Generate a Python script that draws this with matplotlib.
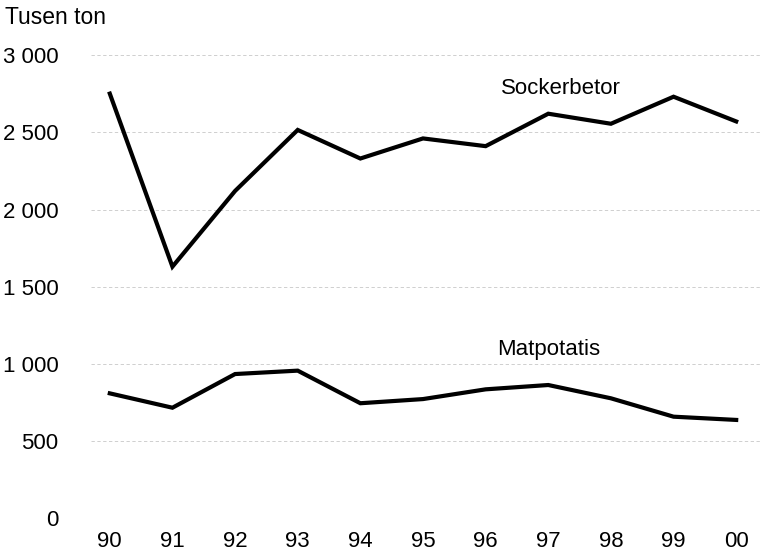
import matplotlib.pyplot as plt

plt.rcParams['font.family'] = ['Liberation Sans', 'DejaVu Sans']

# Data (thousand tonnes)
years = ['90', '91', '92', '93', '94', '95', '96', '97', '98', '99', '00']
sockerbetor = [2750, 1630, 2120, 2515, 2330, 2460, 2410, 2620, 2555, 2730, 2570]
matpotatis = [810, 717, 935, 957, 746, 773, 836, 864, 778, 659, 638]
yticks = [0, 500, 1000, 1500, 2000, 2500, 3000]
ytick_labels = ['0', '500', '1 000', '1 500', '2 000', '2 500', '3 000']

fig = plt.figure(figsize=(7.61, 5.52), dpi=100)
ax = fig.add_axes([91 / 761, 33.5 / 552, 669 / 761, 463.5 / 552])

x = list(range(len(years)))
ax.plot(x, sockerbetor, color='black', linewidth=3, solid_joinstyle='miter')
ax.plot(x, matpotatis, color='black', linewidth=3, solid_joinstyle='miter')

ax.set_xlim(-0.3, 10.38)
ax.set_ylim(0, 3000)
ax.set_yticks(yticks)
ax.set_yticklabels(ytick_labels)
ax.set_xticks(x)
ax.set_xticklabels(years)
ax.tick_params(length=0, labelsize=16)
ax.tick_params(axis='y', pad=23.5)
ax.tick_params(axis='x', pad=9)

ax.grid(axis='y', color='#c8c8c8', linestyle=(0, (4, 3)), linewidth=0.6)
ax.set_axisbelow(True)
for s in ax.spines.values():
    s.set_visible(False)

ax.text(7.2, 2785, 'Sockerbetor', ha='center', va='center', fontsize=16)
ax.text(7.0, 1095, 'Matpotatis', ha='center', va='center', fontsize=16)
fig.text(5 / 761, 1 - 18 / 552, 'Tusen ton', ha='left', va='center', fontsize=16.5)

fig.savefig('out.png', dpi=100)
